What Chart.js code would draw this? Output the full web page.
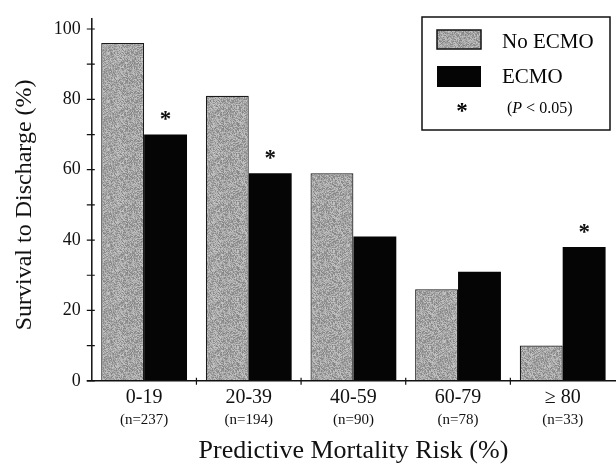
<!DOCTYPE html>
<html>
<head>
<meta charset="utf-8">
<script src="https://cdn.jsdelivr.net/npm/chart.js@4"></script>
<style>
  body { margin: 0; background: #fff; }
  #wrap { width: 616px; height: 464px; }
</style>
</head>
<body>
<div id="wrap"><canvas id="myChart" width="616" height="464"></canvas></div>
<script>
'use strict';

// ***** DATA *****
const categories = ['0-19', '20-39', '40-59', '60-79', '\u2265 80'];
const sampleSizes = ['(n=237)', '(n=194)', '(n=90)', '(n=78)', '(n=33)'];
const noEcmoSurvival = [96, 81, 59, 26, 10];
const ecmoSurvival = [70, 59, 41, 31, 38];
const significant = [true, true, false, false, true];
const labeledTicks = [0, 20, 40, 60, 80, 100];

const serif = '"Liberation Serif", "Times New Roman", serif';

// gray speckled fill for the No ECMO bars
function makeSpeckle() {
  let c = document.createElement('canvas');
  c.width = 48;
  c.height = 48;
  let g = c.getContext('2d');
  let img = g.createImageData(48, 48);
  for (let i = 0; i < 48 * 48; i++) {
    // simple hash so the texture is the same every time
    let h = (i * 2654435761) >>> 0;
    h = ((h ^ (h >>> 13)) * 1274126177) >>> 0;
    let v = 150 + (h % 70) - 20;
    img.data[i * 4] = v;
    img.data[i * 4 + 1] = v;
    img.data[i * 4 + 2] = v;
    img.data[i * 4 + 3] = 255;
  }
  g.putImageData(img, 0, 0);
  return g.createPattern(c, 'repeat');
}

const ctx = document.getElementById('myChart').getContext('2d');

// draws axes, tick marks, n labels, asterisks and the legend box
const decorPlugin = {
  id: 'decor',
  afterDraw(chart) {
    const c = chart.ctx;
    const area = chart.chartArea;
    const xs = chart.scales.x;
    const ys = chart.scales.y;
    c.save();
    c.strokeStyle = '#111';
    c.fillStyle = '#111';
    c.lineWidth = 1.5;

    // axis lines
    c.beginPath();
    c.moveTo(area.left, area.bottom);
    c.lineTo(area.left, area.top - 11);
    c.moveTo(area.left - 5, area.bottom);
    c.lineTo(chart.width, area.bottom);
    c.stroke();

    // y tick marks every 10
    c.lineWidth = 1.2;
    c.beginPath();
    for (let v = 0; v <= 100; v += 10) {
      let y = ys.getPixelForValue(v);
      c.moveTo(area.left - 5, y);
      c.lineTo(area.left + 3, y);
    }
    // x tick marks at category boundaries
    for (let i = 1; i < categories.length; i++) {
      let x = (xs.getPixelForValue(i - 1) + xs.getPixelForValue(i)) / 2;
      c.moveTo(x, area.bottom - 3);
      c.lineTo(x, area.bottom + 4);
    }
    c.stroke();

    // sample sizes under the category labels
    c.font = '15px ' + serif;
    c.textAlign = 'center';
    c.textBaseline = 'middle';
    for (let i = 0; i < sampleSizes.length; i++) {
      c.fillText(sampleSizes[i], xs.getPixelForValue(i), area.bottom + 39);
    }

    // asterisks over significant ECMO bars
    const meta = chart.getDatasetMeta(1);
    c.font = 'bold 23px ' + serif;
    for (let i = 0; i < significant.length; i++) {
      if (significant[i]) {
        let bar = meta.data[i];
        c.fillText('*', bar.x, bar.y - 14);
      }
    }

    // legend box
    c.lineWidth = 1.5;
    c.strokeRect(422, 17, 188, 113);
    c.fillStyle = chart.data.datasets[0].backgroundColor;
    c.fillRect(437, 30, 44, 19);
    c.strokeRect(437, 30, 44, 19);
    c.fillStyle = '#050505';
    c.fillRect(437, 66, 44, 21);
    c.textAlign = 'left';
    c.font = '21px ' + serif;
    c.fillText('No ECMO', 502, 42);
    c.fillText('ECMO', 502, 77);
    c.textAlign = 'center';
    c.font = 'bold 23px ' + serif;
    c.fillText('*', 462, 112);
    c.textAlign = 'left';
    c.font = '16px ' + serif;
    c.fillText('(', 507, 109);
    let px = 507 + c.measureText('(').width;
    c.font = 'italic 16px ' + serif;
    c.fillText('P', px, 109);
    px += c.measureText('P').width;
    c.font = '16px ' + serif;
    c.fillText(' < 0.05)', px, 109);
    c.restore();
  }
};

const chartObj = {
  type: 'bar',
  data: {
    labels: categories,
    datasets: [{
      label: 'No ECMO',
      data: noEcmoSurvival,
      backgroundColor: makeSpeckle(),
      borderColor: '#1a1a1a',
      borderWidth: 1.2,
      categoryPercentage: 0.82,
      barPercentage: 1
    },
    {
      label: 'ECMO',
      data: ecmoSurvival,
      backgroundColor: '#050505',
      borderColor: '#050505',
      borderWidth: 0,
      categoryPercentage: 0.82,
      barPercentage: 1
    }]
  },
  options: {
    responsive: false,
    animation: false,
    layout: { padding: { top: 29, right: 1, left: 10, bottom: 0 } },
    plugins: {
      legend: { display: false },
      tooltip: { enabled: false }
    },
    scales: {
      x: {
        grid: { display: false, drawTicks: false },
        border: { display: false },
        ticks: { color: '#111', font: { family: serif, size: 20 }, padding: 5 },
        title: {
          display: true,
          text: 'Predictive Mortality Risk (%)',
          color: '#111',
          font: { family: serif, size: 26 },
          padding: { top: 21, bottom: -3 }
        }
      },
      y: {
        min: 0,
        max: 100,
        grid: { display: false, drawTicks: false },
        border: { display: false },
        ticks: {
          stepSize: 10,
          color: '#111',
          font: { family: serif, size: 18 },
          padding: 11,
          callback: (v) => labeledTicks.includes(v) ? String(v) : ''
        },
        title: {
          display: true,
          text: 'Survival to Discharge (%)',
          color: '#111',
          font: { family: serif, size: 24 },
          padding: { top: 0, bottom: 4 }
        }
      }
    }
  },
  plugins: [decorPlugin]
};

const myChart = new Chart(ctx, chartObj); // eslint-disable-line
</script>
</body>
</html>
